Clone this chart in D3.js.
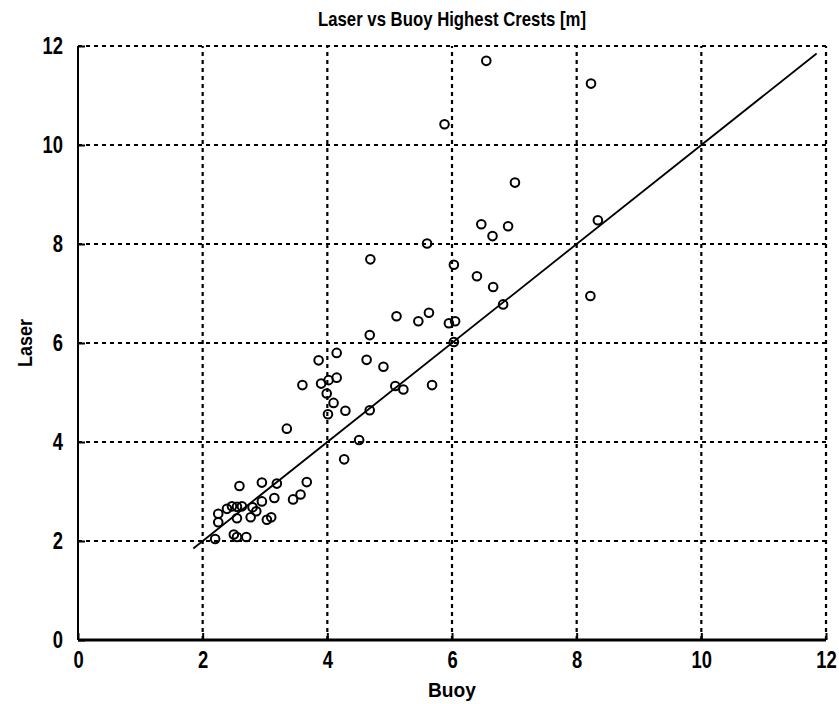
<!DOCTYPE html>
<html>
<head>
<meta charset="utf-8">
<script src="https://cdn.jsdelivr.net/npm/d3@7"></script>
<style>
  body { margin: 0; background: #fff; }
  svg text { font-family: "Liberation Sans", Arial, sans-serif; font-weight: bold; fill: #000; }
</style>
</head>
<body>
<svg id="chart" width="839" height="704"></svg>
<script>
const title = "Laser vs Buoy Highest Crests [m]";
const xLabel = "Buoy";
const yLabel = "Laser";
const xTicks = [0, 2, 4, 6, 8, 10, 12];
const yTicks = [0, 2, 4, 6, 8, 10, 12];
const buoy = [2.20, 2.50, 2.55, 2.70, 2.25, 2.25, 2.39, 2.47, 2.55, 2.63, 2.55, 2.77, 2.86, 2.80, 2.95, 3.03, 3.10, 3.15, 2.59, 2.95, 3.19, 3.45, 3.57, 3.67,
  3.35, 3.60, 3.86, 3.90, 4.02, 4.15, 4.15, 3.99, 4.10, 4.01, 4.29, 4.68, 4.51, 4.27, 4.63, 4.90, 4.68, 5.09, 5.22, 5.68,
  5.11, 5.46, 5.63, 5.95, 6.05, 6.03, 6.82, 6.66, 6.40, 6.03, 4.69, 5.60, 6.65, 6.47, 6.90, 7.01, 5.88, 6.55, 8.23, 8.34, 8.22];
const laser = [2.04, 2.13, 2.08, 2.08, 2.55, 2.38, 2.65, 2.70, 2.69, 2.70, 2.46, 2.48, 2.60, 2.68, 2.80, 2.43, 2.48, 2.87, 3.11, 3.18, 3.16, 2.84, 2.94, 3.19,
  4.27, 5.15, 5.65, 5.18, 5.25, 5.30, 5.80, 4.98, 4.79, 4.56, 4.63, 4.64, 4.04, 3.65, 5.66, 5.52, 6.16, 5.13, 5.06, 5.15,
  6.54, 6.44, 6.61, 6.40, 6.44, 6.02, 6.78, 7.13, 7.35, 7.58, 7.69, 8.01, 8.16, 8.40, 8.36, 9.24, 10.42, 11.70, 11.24, 8.48, 6.95];
const fitX = [1.85, 11.85];
const fitY = [1.85, 11.85];

const svg = d3.select("#chart");
const L = 78, R = 826, T = 46, B = 640;
const x = d3.scaleLinear().domain([0, 12]).range([L, R]);
const y = d3.scaleLinear().domain([0, 12]).range([B, T]);
const SX = 0.8;

// grid
const grid = svg.append("g").attr("stroke", "#000").attr("stroke-width", 2.2).attr("stroke-dasharray", "4,4");
xTicks.filter(d => d > 0).forEach(d => {
  grid.append("line").attr("x1", x(d)).attr("x2", x(d)).attr("y1", B).attr("y2", T);
});
yTicks.filter(d => d > 0).forEach(d => {
  grid.append("line").attr("x1", L).attr("x2", R).attr("y1", y(d)).attr("y2", y(d));
});

// axes
const xAxis = d3.axisBottom(x).tickValues(xTicks).tickSize(-7).tickPadding(12).tickFormat(d3.format("d"));
const yAxis = d3.axisLeft(y).tickValues(yTicks).tickSize(-7).tickPadding(15).tickFormat(d3.format("d"));
const gx = svg.append("g").attr("transform", `translate(0,${B})`).call(xAxis);
const gy = svg.append("g").attr("transform", `translate(${L},0)`).call(yAxis);
[gx, gy].forEach(g => {
  g.selectAll(".tick line").attr("stroke", "#000").attr("stroke-width", 2);
  g.selectAll(".tick text").style("font-size", "23px").attr("fill", "#000");
});
gx.select(".domain").attr("stroke", "#000").attr("stroke-width", 3).attr("d", `M${L},0H${R}`);
gy.select(".domain").attr("stroke", "#000").attr("stroke-width", 2).attr("d", `M0,${B}V${T}`);
gx.selectAll(".tick text").attr("transform", `scale(${SX},1)`);
gy.selectAll(".tick text").each(function() {
  const tx = +d3.select(this).attr("x");
  d3.select(this).attr("transform", `translate(${tx},0) scale(${SX},1) translate(${-tx},0)`);
});

// fit line
svg.append("line")
  .attr("x1", x(fitX[0])).attr("y1", y(fitY[0]))
  .attr("x2", x(fitX[1])).attr("y2", y(fitY[1]))
  .attr("stroke", "#000").attr("stroke-width", 1.8);

// points
svg.append("g").selectAll("circle")
  .data(buoy.map((b, i) => [b, laser[i]]))
  .join("circle")
  .attr("cx", d => x(d[0])).attr("cy", d => y(d[1]))
  .attr("r", 4.3).attr("fill", "none").attr("stroke", "#000").attr("stroke-width", 2);

// texts
svg.append("text").attr("x", 452).attr("y", 26).attr("text-anchor", "middle").style("font-size", "21px")
  .attr("textLength", 268).attr("lengthAdjust", "spacingAndGlyphs").text(title);
svg.append("text").attr("x", 452).attr("y", 697).attr("text-anchor", "middle").style("font-size", "21px")
  .attr("textLength", 48).attr("lengthAdjust", "spacingAndGlyphs").text(xLabel);
svg.append("text").attr("transform", "translate(32,343) rotate(-90)").attr("text-anchor", "middle").style("font-size", "21px")
  .attr("textLength", 48).attr("lengthAdjust", "spacingAndGlyphs").text(yLabel);
</script>
</body>
</html>
